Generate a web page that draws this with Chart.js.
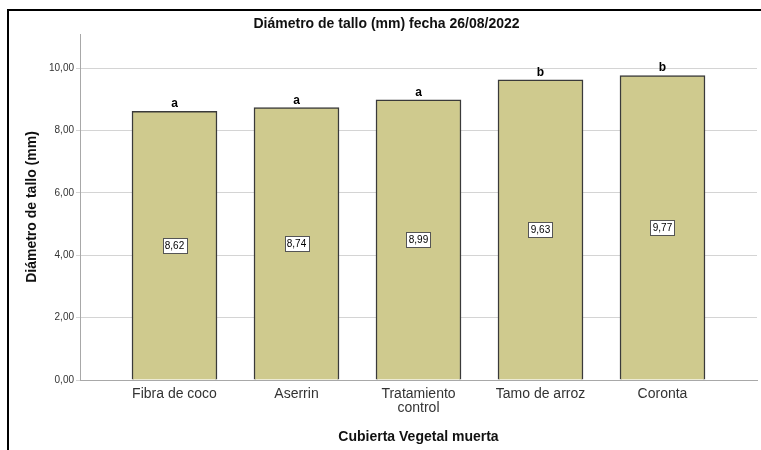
<!DOCTYPE html>
<html lang="es">
<head>
<meta charset="utf-8">
<title>Diámetro de tallo</title>
<script src="https://cdn.jsdelivr.net/npm/chart.js@4.4.1/dist/chart.umd.min.js"></script>
<style>
    body { margin: 0; background: #fff; }
    canvas { display: block; }
</style>
</head>
<body>
<canvas id="grafico" width="761" height="450"></canvas>
<script>
// Datos del gráfico
const categorias = [["Fibra de coco"], ["Aserrin"], ["Tratamiento", "control"], ["Tamo de arroz"], ["Coronta"]];
const diametros = [8.62, 8.74, 8.99, 9.63, 9.77];
const letras = ["a", "a", "a", "b", "b"];
const ticksY = [0, 2, 4, 6, 8, 10];

const fuente = "'Liberation Sans', Arial, sans-serif";
const formato = v => v.toFixed(2).replace(".", ",");

// Marco del gráfico (borde superior e izquierdo)
const marco = {
    id: "marco",
    beforeDraw(chart) {
        const ctx = chart.ctx;
        ctx.save();
        ctx.fillStyle = "#fff";
        ctx.fillRect(0, 0, chart.width, chart.height);
        ctx.strokeStyle = "#000";
        ctx.lineWidth = 2;
        ctx.beginPath();
        ctx.moveTo(8, chart.height);
        ctx.lineTo(8, 10);
        ctx.lineTo(chart.width, 10);
        ctx.stroke();
        ctx.restore();
    }
};

// Etiquetas de valor y letras de significancia
const etiquetasBarras = {
    id: "etiquetasBarras",
    afterDatasetsDraw(chart) {
        const ctx = chart.ctx;
        const meta = chart.getDatasetMeta(0);
        meta.data.forEach((bar, i) => {
            const texto = formato(diametros[i]);
            const yMedio = (bar.y + bar.base) / 2;
            ctx.save();
            ctx.font = "10px " + fuente;
            const w = Math.round(ctx.measureText(texto).width + 5);
            const h = 15;
            const x0 = Math.round(bar.x - w / 2);
            const y0 = Math.round(yMedio - h / 2);
            ctx.fillStyle = "#fff";
            ctx.fillRect(x0, y0, w, h);
            ctx.strokeStyle = "#555";
            ctx.lineWidth = 1;
            ctx.strokeRect(x0 + 0.5, y0 + 0.5, w, h);
            ctx.fillStyle = "#000";
            ctx.textAlign = "center";
            ctx.textBaseline = "middle";
            ctx.fillText(texto, bar.x, y0 + h / 2 + 1);

            ctx.font = "bold 12px " + fuente;
            ctx.textBaseline = "alphabetic";
            ctx.fillText(letras[i], bar.x, bar.y - 4);
            ctx.restore();
        });
    }
};

new Chart(document.getElementById("grafico"), {
    type: "bar",
    data: {
        datasets: [{
            data: diametros.map((v, i) => ({ x: i, y: v })),
            backgroundColor: "#cfca8e",
            borderColor: "#3a3a3a",
            borderWidth: 1.5,
            barThickness: 85
        }]
    },
    options: {
        responsive: false,
        animation: false,
        layout: { padding: { left: 16, right: 4, top: 0, bottom: 0 } },
        plugins: {
            legend: { display: false },
            tooltip: { enabled: false },
            title: {
                display: true,
                text: "Diámetro de tallo (mm) fecha 26/08/2022",
                color: "#111",
                font: { family: fuente, size: 14, weight: "bold" },
                padding: { top: 16, bottom: 1.2 }
            }
        },
        scales: {
            x: {
                type: "linear",
                offset: false,
                min: -0.7746,
                max: 4.7746,
                afterBuildTicks: s => { s.ticks = categorias.map((c, i) => ({ value: i })); },
                afterFit: s => { s.height = 70; },
                grid: { display: false, drawTicks: false, offset: false },
                border: { color: "#a8a8a8" },
                ticks: {
                    autoSkip: false,
                    maxRotation: 0,
                    padding: 7,
                    color: "#333",
                    font: { family: fuente, size: 14, lineHeight: 1.0 },
                    callback: (v, i) => categorias[i]
                },
                title: {
                    display: true,
                    text: "Cubierta Vegetal muerta",
                    color: "#111",
                    font: { family: fuente, size: 14, weight: "bold" },
                    padding: { top: 0, bottom: 4.6 }
                }
            },
            y: {
                min: 0,
                max: 11.1,
                afterBuildTicks: s => { s.ticks = ticksY.map(v => ({ value: v })); },
                afterFit: s => { s.width = 64; },
                grid: { color: "#d4d4d4", tickLength: 4 },
                border: { color: "#a8a8a8" },
                ticks: {
                    padding: 2,
                    color: "#333",
                    font: { family: fuente, size: 10 },
                    callback: v => formato(v)
                },
                title: {
                    display: true,
                    text: "Diámetro de tallo (mm)",
                    color: "#111",
                    font: { family: fuente, size: 14, weight: "bold" },
                    padding: { top: 7.6, bottom: 0 }
                }
            }
        }
    },
    plugins: [marco, etiquetasBarras]
});
</script>
</body>
</html>
